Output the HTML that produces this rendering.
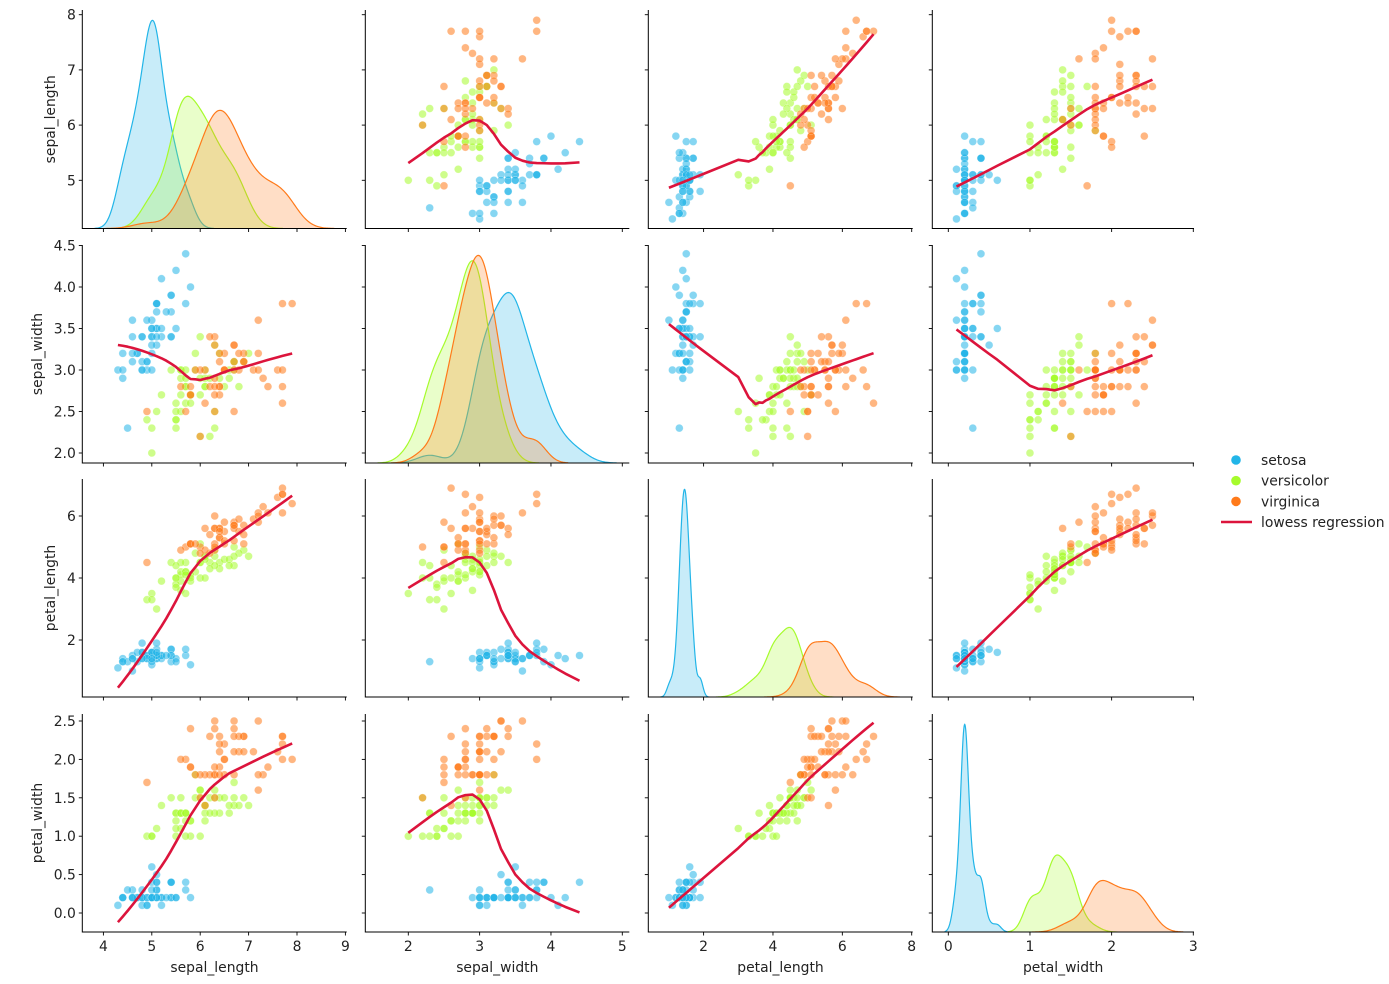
<!DOCTYPE html>
<html><head><meta charset="utf-8">
<style>
html,body{margin:0;padding:0;background:#fff;}
svg{display:block;font-family:"DejaVu Sans","Liberation Sans",sans-serif;}
</style></head>
<body>
<svg id="chart" width="1389" height="984" xmlns="http://www.w3.org/2000/svg"></svg>
<script>
// ---- data (Fisher iris) ----
const variables = ["sepal_length","sepal_width","petal_length","petal_width"];
const speciesNames = ["setosa","versicolor","virginica"];
const speciesCounts = [50,50,50];
const sepalLength = [5.1,4.9,4.7,4.6,5.0,5.4,4.6,5.0,4.4,4.9,5.4,4.8,4.8,4.3,5.8,5.7,5.4,5.1,5.7,5.1,5.4,5.1,4.6,5.1,4.8,5.0,5.0,5.2,5.2,4.7,4.8,5.4,5.2,5.5,4.9,5.0,5.5,4.9,4.4,5.1,5.0,4.5,4.4,5.0,5.1,4.8,5.1,4.6,5.3,5.0,
7.0,6.4,6.9,5.5,6.5,5.7,6.3,4.9,6.6,5.2,5.0,5.9,6.0,6.1,5.6,6.7,5.6,5.8,6.2,5.6,5.9,6.1,6.3,6.1,6.4,6.6,6.8,6.7,6.0,5.7,5.5,5.5,5.8,6.0,5.4,6.0,6.7,6.3,5.6,5.5,5.5,6.1,5.8,5.0,5.6,5.7,5.7,6.2,5.1,5.7,
6.3,5.8,7.1,6.3,6.5,7.6,4.9,7.3,6.7,7.2,6.5,6.4,6.8,5.7,5.8,6.4,6.5,7.7,7.7,6.0,6.9,5.6,7.7,6.3,6.7,7.2,6.2,6.1,6.4,7.2,7.4,7.9,6.4,6.3,6.1,7.7,6.3,6.4,6.0,6.9,6.7,6.9,5.8,6.8,6.7,6.7,6.3,6.5,6.2,5.9];
const sepalWidth = [3.5,3.0,3.2,3.1,3.6,3.9,3.4,3.4,2.9,3.1,3.7,3.4,3.0,3.0,4.0,4.4,3.9,3.5,3.8,3.8,3.4,3.7,3.6,3.3,3.4,3.0,3.4,3.5,3.4,3.2,3.1,3.4,4.1,4.2,3.1,3.2,3.5,3.6,3.0,3.4,3.5,2.3,3.2,3.5,3.8,3.0,3.8,3.2,3.7,3.3,
3.2,3.2,3.1,2.3,2.8,2.8,3.3,2.4,2.9,2.7,2.0,3.0,2.2,2.9,2.9,3.1,3.0,2.7,2.2,2.5,3.2,2.8,2.5,2.8,2.9,3.0,2.8,3.0,2.9,2.6,2.4,2.4,2.7,2.7,3.0,3.4,3.1,2.3,3.0,2.5,2.6,3.0,2.6,2.3,2.7,3.0,2.9,2.9,2.5,2.8,
3.3,2.7,3.0,2.9,3.0,3.0,2.5,2.9,2.5,3.6,3.2,2.7,3.0,2.5,2.8,3.2,3.0,3.8,2.6,2.2,3.2,2.8,2.8,2.7,3.3,3.2,2.8,3.0,2.8,3.0,2.8,3.8,2.8,2.8,2.6,3.0,3.4,3.1,3.0,3.1,3.1,3.1,2.7,3.2,3.3,3.0,2.5,3.0,3.4,3.0];
const petalLength = [1.4,1.4,1.3,1.5,1.4,1.7,1.4,1.5,1.4,1.5,1.5,1.6,1.4,1.1,1.2,1.5,1.3,1.4,1.7,1.5,1.7,1.5,1.0,1.7,1.9,1.6,1.6,1.5,1.4,1.6,1.6,1.5,1.5,1.4,1.5,1.2,1.3,1.4,1.3,1.5,1.3,1.3,1.3,1.6,1.9,1.4,1.6,1.4,1.5,1.4,
4.7,4.5,4.9,4.0,4.6,4.5,4.7,3.3,4.6,3.9,3.5,4.2,4.0,4.7,3.6,4.4,4.5,4.1,4.5,3.9,4.8,4.0,4.9,4.7,4.3,4.4,4.8,5.0,4.5,3.5,3.8,3.7,3.9,5.1,4.5,4.5,4.7,4.4,4.1,4.0,4.4,4.6,4.0,3.3,4.2,4.2,4.2,4.3,3.0,4.1,
6.0,5.1,5.9,5.6,5.8,6.6,4.5,6.3,5.8,6.1,5.1,5.3,5.5,5.0,5.1,5.3,5.5,6.7,6.9,5.0,5.7,4.9,6.7,4.9,5.7,6.0,4.8,4.9,5.6,5.8,6.1,6.4,5.6,5.1,5.6,6.1,5.6,5.5,4.8,5.4,5.6,5.1,5.1,5.9,5.7,5.2,5.0,5.2,5.4,5.1];
const petalWidth = [0.2,0.2,0.2,0.2,0.2,0.4,0.3,0.2,0.2,0.1,0.2,0.2,0.1,0.1,0.2,0.4,0.4,0.3,0.3,0.3,0.2,0.4,0.2,0.5,0.2,0.2,0.4,0.2,0.2,0.2,0.2,0.4,0.1,0.2,0.2,0.2,0.2,0.1,0.2,0.2,0.3,0.3,0.2,0.6,0.4,0.3,0.2,0.2,0.2,0.2,
1.4,1.5,1.5,1.3,1.5,1.3,1.6,1.0,1.3,1.4,1.0,1.5,1.0,1.4,1.3,1.4,1.5,1.0,1.5,1.1,1.8,1.3,1.5,1.2,1.3,1.4,1.4,1.7,1.5,1.0,1.1,1.0,1.2,1.6,1.5,1.6,1.5,1.3,1.3,1.3,1.2,1.4,1.2,1.0,1.3,1.2,1.3,1.3,1.1,1.3,
2.5,1.9,2.1,1.8,2.2,2.1,1.7,1.8,1.8,2.5,2.0,1.9,2.1,2.0,2.4,2.3,1.8,2.2,2.3,1.5,2.3,2.0,2.0,1.8,2.1,1.8,1.8,1.8,2.1,1.6,1.9,2.0,2.2,1.5,1.4,2.3,2.4,1.8,1.8,2.1,2.4,2.3,1.9,2.3,2.5,2.3,1.9,2.0,2.3,1.8];
const xTicks = [[4,5,6,7,8,9],[2,3,4,5],[2,4,6,8],[0,1,2,3]];
const yTicks = [[5,6,7,8],[2.0,2.5,3.0,3.5,4.0,4.5],[2,4,6],[0.0,0.5,1.0,1.5,2.0,2.5]];
const yTickLabels = [["5","6","7","8"],["2.0","2.5","3.0","3.5","4.0","4.5"],["2","4","6"],["0.0","0.5","1.0","1.5","2.0","2.5"]];

// ---- layout ----
const NS="http://www.w3.org/2000/svg";
const svg=document.getElementById("chart");
const colors=["#22b5e8","#a6fb2c","#ff7a1a"];
const colL=[82.3,365.3,648.3,932.3], colR=[346.7,629.3,912.7,1194];
const rowT=[10,245,479,714], rowB=[228.5,463,697,932];
const yTitleX=[51,38,51,38];
const xRef=[[4,103.4,9,345.4],[2,408.3,5,622.3],[2,703.6,8,911.7],[0,948.3,3,1193.3]];
const yRef=[[5,180.3,8,14.7],[2.0,453,4.5,245.5],[2,640,6,516],[0.0,913,2.5,721]];
function xs(c,v){const r=xRef[c];return r[1]+(v-r[0])*(r[3]-r[1])/(r[2]-r[0]);}
function ys(rw,v){const r=yRef[rw];return r[1]+(v-r[0])*(r[3]-r[1])/(r[2]-r[0]);}
const cols=[sepalLength,sepalWidth,petalLength,petalWidth];
const species=[];speciesCounts.forEach((n,k)=>{for(let i=0;i<n;i++)species.push(k);});

function el(tag,attrs,parent){const e=document.createElementNS(NS,tag);for(const k in attrs)e.setAttribute(k,attrs[k]);(parent||svg).appendChild(e);return e;}

const defs=el("defs",{});
for(let r=0;r<4;r++)for(let c=0;c<4;c++){
  const cp=el("clipPath",{id:"cp"+r+c},defs);
  el("rect",{x:colL[c],y:rowT[r],width:colR[c]-colL[c],height:rowB[r]-rowT[r]},cp);
}

function std(a){const m=a.reduce((s,v)=>s+v,0)/a.length;return Math.sqrt(a.reduce((s,v)=>s+(v-m)*(v-m),0)/(a.length-1));}
function kde(a){
  const n=a.length,bw=std(a)*Math.pow(n,-0.2);
  const lo=Math.min(...a)-3*bw,hi=Math.max(...a)+3*bw,G=200,xsv=[],d=[];
  for(let g=0;g<G;g++){const x=lo+(hi-lo)*g/(G-1);let s=0;for(const v of a){const z=(x-v)/bw;s+=Math.exp(-0.5*z*z);}
    xsv.push(x);d.push(s/(n*bw*Math.sqrt(2*Math.PI))*(n/150));}
  return [xsv,d];
}
function lowess(x,y,frac,iters){
  const n=x.length,idx=[...Array(n).keys()].sort((a,b)=>x[a]-x[b]);
  const X=idx.map(i=>x[i]),Y=idx.map(i=>y[i]);
  const k=Math.floor(frac*n+1e-10);let rw=new Array(n).fill(1),fit=new Array(n);
  for(let it=0;it<=iters;it++){
    for(let i=0;i<n;i++){
      const ds=X.map(v=>Math.abs(v-X[i])).slice().sort((a,b)=>a-b);const h=ds[k-1]||1e-12;
      let sw=0,sx=0,sy=0,sxx=0,sxy=0;
      for(let j=0;j<n;j++){const u=Math.abs(X[j]-X[i])/h;if(u>=1)continue;let w=Math.pow(1-u*u*u,3)*rw[j];
        sw+=w;sx+=w*X[j];sy+=w*Y[j];sxx+=w*X[j]*X[j];sxy+=w*X[j]*Y[j];}
      const mx=sx/sw,my=sy/sw,vx=sxx/sw-mx*mx;
      const b=vx>1e-12?(sxy/sw-mx*my)/vx:0;fit[i]=my+b*(X[i]-mx);
    }
    if(it===iters)break;
    const res=Y.map((v,i)=>v-fit[i]),ar=res.map(Math.abs).sort((a,b)=>a-b);
    const med=(ar[Math.floor((n-1)/2)]+ar[Math.ceil((n-1)/2)])/2,s=6*med||1e-12;
    rw=res.map(r=>{const u=r/s;return Math.abs(u)<1?(1-u*u)*(1-u*u):0;});
  }
  return [X,fit];
}

for(let r=0;r<4;r++){for(let c=0;c<4;c++){
  const g=el("g",{"clip-path":"url(#cp"+r+c+")"});
  if(r===c){
    
    
    const ks=[0,1,2].map(k=>kde(cols[c].filter((v,i)=>species[i]===k)));
    const dmax=Math.max(...ks.map(q=>Math.max(...q[1])))*1.05;
    const yb=rowB[r],ht=rowB[r]-rowT[r];
    ks.forEach((q,k)=>{
      let p="M"+xs(c,q[0][0])+","+yb;
      q[0].forEach((x,i)=>{p+=" L"+xs(c,x).toFixed(2)+","+(yb-q[1][i]/dmax*ht).toFixed(2);});
      p+=" L"+xs(c,q[0][q[0].length-1])+","+yb+" Z";
      const f=el("path",{d:p,fill:colors[k],"fill-opacity":0.25,stroke:"none"},g);
      
      
      let l="";q[0].forEach((x,i)=>{l+=(i?" L":"M")+xs(c,x).toFixed(2)+","+(yb-q[1][i]/dmax*ht).toFixed(2);});
      const ln=el("path",{d:l,fill:"none",stroke:colors[k],"stroke-width":1.2},g);
      
      
    });
  } else {
    
    
    const xv=cols[c],yv=cols[r];
    for(let i=0;i<150;i++){
      const pt=el("circle",{cx:xs(c,xv[i]).toFixed(2),cy:ys(r,yv[i]).toFixed(2),r:3.9,fill:colors[species[i]],"fill-opacity":0.55,stroke:"#fff","stroke-width":0.4,"stroke-opacity":0.6},g);
      
      
    }
    const lw=lowess(xv,yv,2/3,3);let p="";
    lw[0].forEach((x,i)=>{p+=(i?" L":"M")+xs(c,x).toFixed(2)+","+ys(r,lw[1][i]).toFixed(2);});
    const line=el("path",{d:p,fill:"none",stroke:"#dc143c","stroke-width":2.6,"stroke-linejoin":"round"},g);
    
    
  }
  const sp=el("path",{d:"M"+colL[c]+","+rowT[r]+" V"+rowB[r]+" H"+colR[c],fill:"none",stroke:"#000","stroke-width":1});
  
  
  xTicks[c].forEach(t=>{const x=xs(c,t);
    const tk=el("line",{x1:x,x2:x,y1:rowB[r],y2:rowB[r]+3.5,stroke:"#000","stroke-width":0.9});
    
    
    if(r===3){const tl=el("text",{x:x,y:rowB[r]+19,"font-size":13.9,"text-anchor":"middle",fill:"#222"});tl.textContent=t;
      
      }
  });
  yTicks[r].forEach((t,ti)=>{const y=ys(r,t);
    const tk=el("line",{x1:colL[c]-3.5,x2:colL[c],y1:y,y2:y,stroke:"#000","stroke-width":0.9});
    
    
    if(c===0){const tl=el("text",{x:colL[c]-6.5,y:y+5,"font-size":13.9,"text-anchor":"end",fill:"#222"});tl.textContent=yTickLabels[r][ti];
      
      }
  });
}}
for(let c=0;c<4;c++){const t=el("text",{x:(colL[c]+colR[c])/2,y:972,"font-size":13.9,"text-anchor":"middle",fill:"#222"});t.textContent=variables[c];
  
  }
for(let r=0;r<4;r++){const cy=(rowT[r]+rowB[r])/2;const t=el("text",{x:0,y:0,"font-size":13.9,"text-anchor":"middle","dominant-baseline":"central",fill:"#222",transform:"translate("+yTitleX[r]+","+cy+") rotate(-90)"});t.textContent=variables[r];
  
  }
const lg=el("g",{});


speciesNames.forEach((s,k)=>{const y=460+k*20.7;
  const m=el("circle",{cx:1236,cy:y,r:4.8,fill:colors[k]},lg);
  
  
  const t=el("text",{x:1261,y:y+5,"font-size":13.9,fill:"#222"},lg);t.textContent=s;
  
  
});
const ll=el("line",{x1:1221,x2:1252,y1:522,y2:522,stroke:"#dc143c","stroke-width":2.6},lg);


const lt=el("text",{x:1261,y:527,"font-size":13.9,fill:"#222"},lg);lt.textContent="lowess regression";


</script>
</body></html>
